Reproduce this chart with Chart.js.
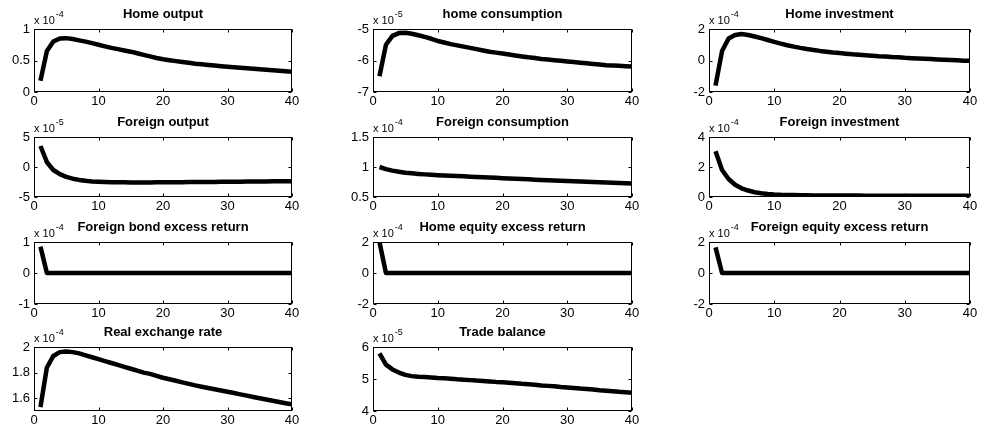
<!DOCTYPE html>
<html>
<head>
<meta charset="utf-8">
<script src="https://cdn.jsdelivr.net/npm/chart.js@4/dist/chart.umd.min.js"></script>
<style>
html, body { margin: 0; padding: 0; background: #fff; overflow: hidden; }
#wrap { position: relative; width: 981px; height: 433px; }
canvas { position: absolute; }
</style>
</head>
<body>
<div id="wrap"></div>
<script>
// horizon (quarters)
const periods = [1,2,3,4,5,6,7,8,9,10,11,12,13,14,15,16,17,18,19,20,21,22,23,24,25,26,27,28,29,30,31,32,33,34,35,36,37,38,39,40];
const xTicks = [0, 10, 20, 30, 40];

// impulse responses, values in units of the axis multiplier (x 10^-n)
const homeOutput = [0.18,0.65,0.80,0.85,0.855,0.84,0.82,0.80,0.775,0.75,0.725,0.70,0.68,0.66,0.64,0.615,0.59,0.565,0.54,0.52,0.505,0.49,0.476,0.463,0.45,0.44,0.43,0.42,0.41,0.40,0.392,0.384,0.376,0.368,0.36,0.352,0.344,0.336,0.328,0.32];
const homeConsumption = [-6.5,-5.5,-5.22,-5.13,-5.12,-5.15,-5.2,-5.25,-5.31,-5.38,-5.43,-5.48,-5.52,-5.56,-5.6,-5.64,-5.68,-5.72,-5.75,-5.78,-5.81,-5.84,-5.87,-5.9,-5.92,-5.95,-5.97,-5.99,-6.01,-6.03,-6.05,-6.07,-6.09,-6.11,-6.13,-6.15,-6.16,-6.17,-6.18,-6.19];
const homeInvestment = [-1.6,0.6,1.4,1.62,1.68,1.62,1.52,1.42,1.3,1.18,1.07,0.97,0.88,0.8,0.73,0.67,0.61,0.56,0.51,0.47,0.43,0.39,0.36,0.33,0.3,0.27,0.25,0.22,0.2,0.17,0.15,0.13,0.11,0.09,0.07,0.05,0.03,0.01,-0.01,-0.02];
const foreignOutput = [3.5,0.8,-0.5,-1.2,-1.65,-1.95,-2.15,-2.3,-2.4,-2.46,-2.5,-2.53,-2.55,-2.56,-2.57,-2.57,-2.57,-2.57,-2.56,-2.56,-2.55,-2.54,-2.53,-2.52,-2.51,-2.5,-2.49,-2.48,-2.47,-2.46,-2.45,-2.44,-2.43,-2.42,-2.41,-2.4,-2.39,-2.38,-2.37,-2.36];
const foreignConsumption = [1.0,0.965,0.94,0.92,0.905,0.895,0.885,0.877,0.87,0.864,0.859,0.854,0.849,0.844,0.839,0.834,0.829,0.824,0.819,0.814,0.809,0.804,0.799,0.794,0.789,0.784,0.779,0.775,0.77,0.766,0.762,0.758,0.754,0.75,0.746,0.742,0.738,0.734,0.73,0.727];
const foreignInvestment = [3.05,1.8,1.2,0.82,0.58,0.43,0.32,0.25,0.2,0.17,0.15,0.14,0.13,0.12,0.11,0.105,0.1,0.1,0.1,0.1,0.095,0.095,0.095,0.09,0.09,0.09,0.09,0.09,0.085,0.085,0.085,0.085,0.085,0.08,0.08,0.08,0.08,0.08,0.08,0.08];
const foreignBondExcess = [0.85,0,0,0,0,0,0,0,0,0,0,0,0,0,0,0,0,0,0,0,0,0,0,0,0,0,0,0,0,0,0,0,0,0,0,0,0,0,0,0];
const homeEquityExcess = [2.0,0,0,0,0,0,0,0,0,0,0,0,0,0,0,0,0,0,0,0,0,0,0,0,0,0,0,0,0,0,0,0,0,0,0,0,0,0,0,0];
const foreignEquityExcess = [1.65,0,0,0,0,0,0,0,0,0,0,0,0,0,0,0,0,0,0,0,0,0,0,0,0,0,0,0,0,0,0,0,0,0,0,0,0,0,0,0];
const realExchangeRate = [1.53,1.84,1.93,1.96,1.965,1.96,1.95,1.935,1.92,1.905,1.89,1.875,1.86,1.845,1.83,1.815,1.8,1.79,1.775,1.76,1.748,1.736,1.724,1.712,1.70,1.69,1.68,1.67,1.66,1.65,1.64,1.63,1.62,1.61,1.60,1.59,1.58,1.57,1.56,1.553];
const tradeBalance = [5.8,5.45,5.3,5.2,5.13,5.09,5.07,5.06,5.045,5.03,5.02,5.005,4.99,4.98,4.965,4.95,4.94,4.925,4.91,4.9,4.885,4.87,4.85,4.835,4.82,4.8,4.785,4.77,4.75,4.735,4.72,4.70,4.685,4.67,4.65,4.635,4.62,4.6,4.585,4.57];

// y tick labels per panel
const ticksHomeOutput = [0, 0.5, 1];
const ticksHomeConsumption = [-7, -6, -5];
const ticksHomeInvestment = [-2, 0, 2];
const ticksForeignOutput = [-5, 0, 5];
const ticksForeignConsumption = [0.5, 1, 1.5];
const ticksForeignInvestment = [0, 2, 4];
const ticksBond = [-1, 0, 1];
const ticksEquity = [-2, 0, 2];
const ticksRer = [1.6, 1.8, 2];
const ticksTrade = [4, 5, 6];

// subplot grid (plot area edges in px)
const colLeft = [34, 373, 709];
const colRight = [292, 632, 970];
const rowTop = [29, 137, 242, 347];
const rowBottom = [92, 197, 304, 411];

const FONT = '"Liberation Sans", Arial, Helvetica, sans-serif';
Chart.defaults.font.family = FONT;
Chart.defaults.color = '#000';

const matlabBox = {
  id: 'matlabBox',
  afterDraw(chart, args, opts) {
    const ctx = chart.ctx;
    const a = chart.chartArea;
    const xs = chart.scales.x;
    const ys = chart.scales.y;
    const l = Math.round(a.left) + 0.5, r = Math.round(a.right) - 0.5;
    const t = Math.round(a.top) + 0.5, b = Math.round(a.bottom) - 0.5;
    ctx.save();
    ctx.strokeStyle = '#000';
    ctx.lineWidth = 1;
    ctx.strokeRect(l, t, r - l, b - t);
    ctx.beginPath();
    xs.ticks.forEach(tk => {
      const px = Math.round(xs.getPixelForValue(tk.value)) + 0.5;
      ctx.moveTo(px, b); ctx.lineTo(px, b - 3);
      ctx.moveTo(px, t); ctx.lineTo(px, t + 3);
    });
    ys.ticks.forEach(tk => {
      const py = Math.round(ys.getPixelForValue(tk.value)) + 0.5;
      ctx.moveTo(l, py); ctx.lineTo(l + 3, py);
      ctx.moveTo(r, py); ctx.lineTo(r - 3, py);
    });
    ctx.stroke();
    // axis multiplier
    ctx.fillStyle = '#000';
    ctx.textAlign = 'left';
    ctx.textBaseline = 'alphabetic';
    ctx.font = '11px ' + FONT;
    ctx.fillText('x 10', a.left, a.top - 5);
    const w = ctx.measureText('x 10').width;
    ctx.font = '9px ' + FONT;
    ctx.fillText(opts.exp, a.left + w + 1, a.top - 12);
    ctx.restore();
  }
};

function functionChart(title, values, yTicks, exp, col, row) {
  const left = colLeft[col], right = colRight[col];
  const top = rowTop[row], bottom = rowBottom[row];
  const canvas = document.createElement('canvas');
  const w = (right - left) + 36 + 12;
  const h = (bottom - top) + 30 + 22;
  canvas.width = w;
  canvas.height = h;
  canvas.style.left = (left - 36) + 'px';
  canvas.style.top = (top - 30) + 'px';
  canvas.style.width = w + 'px';
  canvas.style.height = h + 'px';
  document.getElementById('wrap').appendChild(canvas);

  return new Chart(canvas, {
    type: 'line',
    data: {
      datasets: [{
        data: periods.map((p, i) => ({ x: p, y: values[i] })),
        borderColor: '#000',
        borderWidth: 4.5,
        borderJoinStyle: 'round',
        pointRadius: 0,
        tension: 0,
        fill: false
      }]
    },
    options: {
      responsive: false,
      animation: false,
      devicePixelRatio: 1,
      layout: { padding: { left: 0, right: 12, top: 0, bottom: 0 } },
      plugins: {
        legend: { display: false },
        tooltip: { enabled: false },
        title: {
          display: true,
          text: title,
          fullSize: false,
          color: '#000',
          font: { size: 13, weight: 'bold', lineHeight: 1.2 },
          padding: { top: 7.2, bottom: 7.2 }
        },
        matlabBox: { exp: exp }
      },
      scales: {
        x: {
          type: 'linear',
          min: 0,
          max: 40,
          afterBuildTicks: s => { s.ticks = xTicks.map(v => ({ value: v })); },
          afterFit: s => { s.height = 22; },
          grid: { display: false, drawTicks: false },
          border: { display: false },
          ticks: { color: '#000', font: { size: 13 }, padding: 2, maxRotation: 0, autoSkip: false, callback: v => String(v) }
        },
        y: {
          type: 'linear',
          min: yTicks[0] - (title === 'Real exchange rate' ? 0.1 : 0),
          max: yTicks[yTicks.length - 1],
          afterBuildTicks: s => { s.ticks = yTicks.map(v => ({ value: v })); },
          afterFit: s => { s.width = 36; },
          grid: { display: false, drawTicks: false },
          border: { display: false },
          ticks: { color: '#000', font: { size: 13 }, padding: 4, autoSkip: false, callback: v => String(v) }
        }
      }
    },
    plugins: [matlabBox]
  });
}

functionChart('Home output', homeOutput, ticksHomeOutput, '-4', 0, 0);
functionChart('home consumption', homeConsumption, ticksHomeConsumption, '-5', 1, 0);
functionChart('Home investment', homeInvestment, ticksHomeInvestment, '-4', 2, 0);
functionChart('Foreign output', foreignOutput, ticksForeignOutput, '-5', 0, 1);
functionChart('Foreign consumption', foreignConsumption, ticksForeignConsumption, '-4', 1, 1);
functionChart('Foreign investment', foreignInvestment, ticksForeignInvestment, '-4', 2, 1);
functionChart('Foreign bond excess return', foreignBondExcess, ticksBond, '-4', 0, 2);
functionChart('Home equity excess return', homeEquityExcess, ticksEquity, '-4', 1, 2);
functionChart('Foreign equity excess return', foreignEquityExcess, ticksEquity, '-4', 2, 2);
functionChart('Real exchange rate', realExchangeRate, ticksRer, '-4', 0, 3);
functionChart('Trade balance', tradeBalance, ticksTrade, '-5', 1, 3);
</script>
</body>
</html>
